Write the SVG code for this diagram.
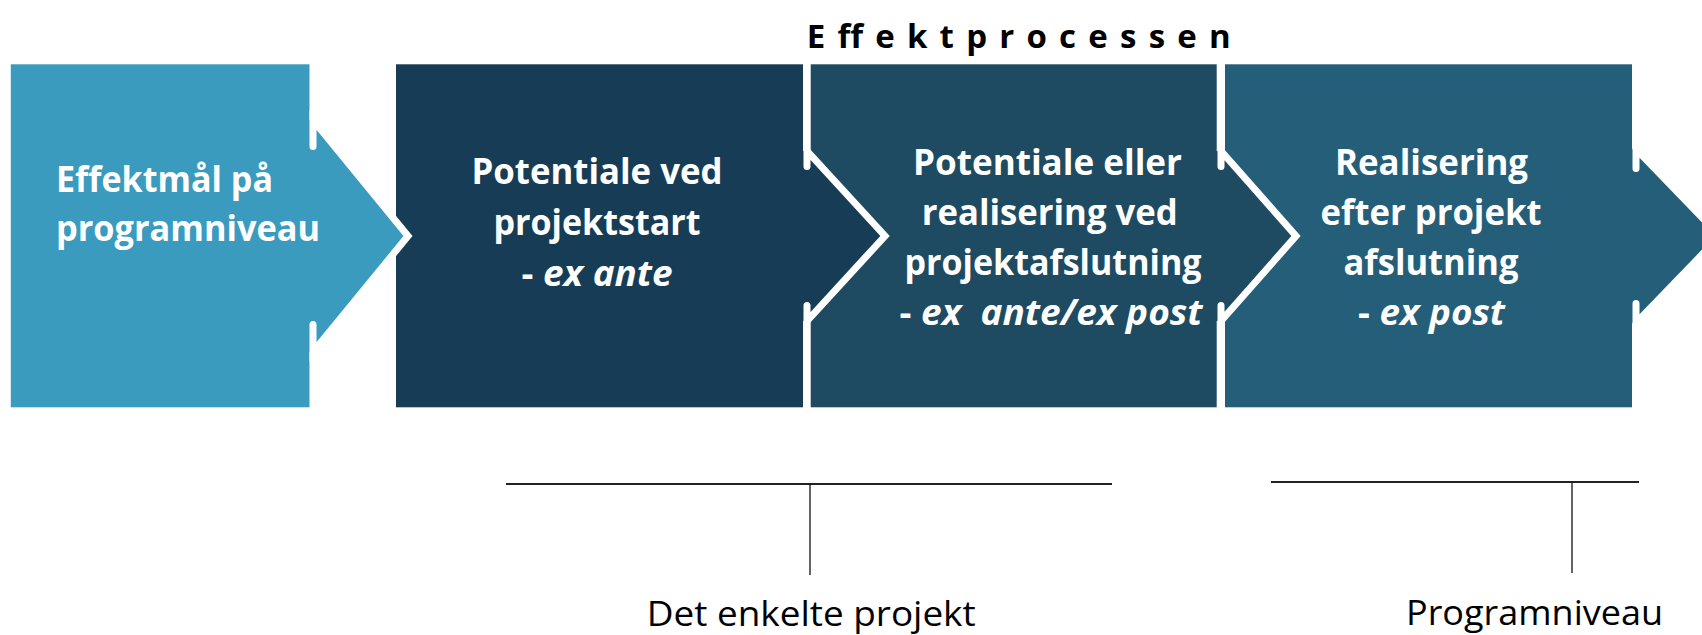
<svg xmlns="http://www.w3.org/2000/svg" width="1702" height="635" viewBox="0 0 1702 635">
<style>
.bt{font-family:"Open Sans","Liberation Sans",sans-serif;font-weight:bold;font-size:35.5px;fill:#ffffff;white-space:pre}
.it{font-style:italic}
.ttl{font-family:"Open Sans","Liberation Sans",sans-serif;font-weight:bold;font-size:33px;fill:#000000}
.lbl{font-family:"Open Sans","Liberation Sans",sans-serif;font-size:34.5px;fill:#000000}
.edge{fill:none;stroke:#ffffff;stroke-width:7;stroke-linecap:round;stroke-linejoin:miter}
.c1{fill:#3a9bbf}
.c2{fill:#173d56}
.c3{fill:#1e4b62}
.c4{fill:#255e78}
.hl{stroke:#222222;stroke-width:2.2;fill:none}
.vl{stroke:#111111;stroke-width:1.3;fill:none}
</style>
<rect x="0" y="0" width="1702" height="635" fill="#ffffff"/>
<text class="ttl" x="806.7" y="47.5" textLength="424" lengthAdjust="spacing">Effektprocessen</text>

<g id="node4">
<rect class="c4" x="1225" y="64.3" width="407" height="343"/>
<polygon class="c4" points="1631,149 1636,149 1720,236 1636,323 1631,323"/>
<path class="edge" d="M1636,168.5 L1636,149 L1720,236 L1636,323 L1636,303.5"/>
<text class="bt" text-anchor="middle" x="1431.5" y="175" textLength="193" lengthAdjust="spacingAndGlyphs">Realisering</text>
<text class="bt" text-anchor="middle" x="1431" y="225" textLength="221" lengthAdjust="spacingAndGlyphs">efter projekt</text>
<text class="bt" text-anchor="middle" x="1431" y="275" textLength="175" lengthAdjust="spacingAndGlyphs">afslutning</text>
<text class="bt" text-anchor="middle" x="1431.5" y="325" textLength="147" lengthAdjust="spacingAndGlyphs">- <tspan class="it">ex post</tspan></text>
</g>

<g id="node3">
<rect class="c3" x="810.7" y="64.3" width="406" height="343"/>
<polygon class="c3" points="1216,151 1221,151 1296,236 1221,321 1216,321"/>
<path class="edge" d="M1221,166.5 L1221,151 L1296,236 L1221,321 L1221,305.5"/>
<text class="bt" text-anchor="middle" x="1047.5" y="175" textLength="269" lengthAdjust="spacingAndGlyphs">Potentiale eller</text>
<text class="bt" text-anchor="middle" x="1049.7" y="225" textLength="256" lengthAdjust="spacingAndGlyphs">realisering ved</text>
<text class="bt" text-anchor="middle" x="1053" y="275" textLength="297" lengthAdjust="spacingAndGlyphs">projektafslutning</text>
<text class="bt" text-anchor="middle" x="1051" y="325" textLength="303" lengthAdjust="spacingAndGlyphs">- <tspan class="it">ex  ante/ex post</tspan></text>
</g>

<g id="node2">
<rect class="c2" x="396" y="64.3" width="407" height="343"/>
<polygon class="c2" points="802,151 807,151 885,236 807,321 802,321"/>
<path class="edge" d="M807,166.5 L807,151 L885,236 L807,321 L807,305.5"/>
<text class="bt" text-anchor="middle" x="597" y="183.5" textLength="251" lengthAdjust="spacingAndGlyphs">Potentiale ved</text>
<text class="bt" text-anchor="middle" x="597" y="234.5" textLength="207" lengthAdjust="spacingAndGlyphs">projektstart</text>
<text class="bt" text-anchor="middle" x="597" y="286" textLength="151" lengthAdjust="spacingAndGlyphs">- <tspan class="it">ex ante</tspan></text>
</g>

<g id="node1">
<rect class="c1" x="10.8" y="64.3" width="298.7" height="343"/>
<polygon class="c1" points="309,120 313,120 408,236 313,352 309,352"/>
<path class="edge" d="M313,146.5 L313,120 L408,236 L313,352 L313,324.5"/>
<text class="bt" x="56" y="192.3" textLength="217" lengthAdjust="spacingAndGlyphs">Effektmål på</text>
<text class="bt" x="56" y="241" textLength="264" lengthAdjust="spacingAndGlyphs">programniveau</text>
</g>

<g id="connectors">
<line class="hl" x1="506" y1="484" x2="1112" y2="484"/>
<line class="vl" x1="810" y1="484" x2="810" y2="575"/>
<line class="hl" x1="1271" y1="482" x2="1639" y2="482"/>
<line class="vl" x1="1572" y1="482" x2="1572" y2="573"/>
</g>

<g id="label-projekt">
<text class="lbl" x="646.7" y="626" textLength="329" lengthAdjust="spacingAndGlyphs">Det enkelte projekt</text>
</g>
<g id="label-program">
<text class="lbl" x="1406" y="625" textLength="257" lengthAdjust="spacingAndGlyphs">Programniveau</text>
</g>
</svg>
